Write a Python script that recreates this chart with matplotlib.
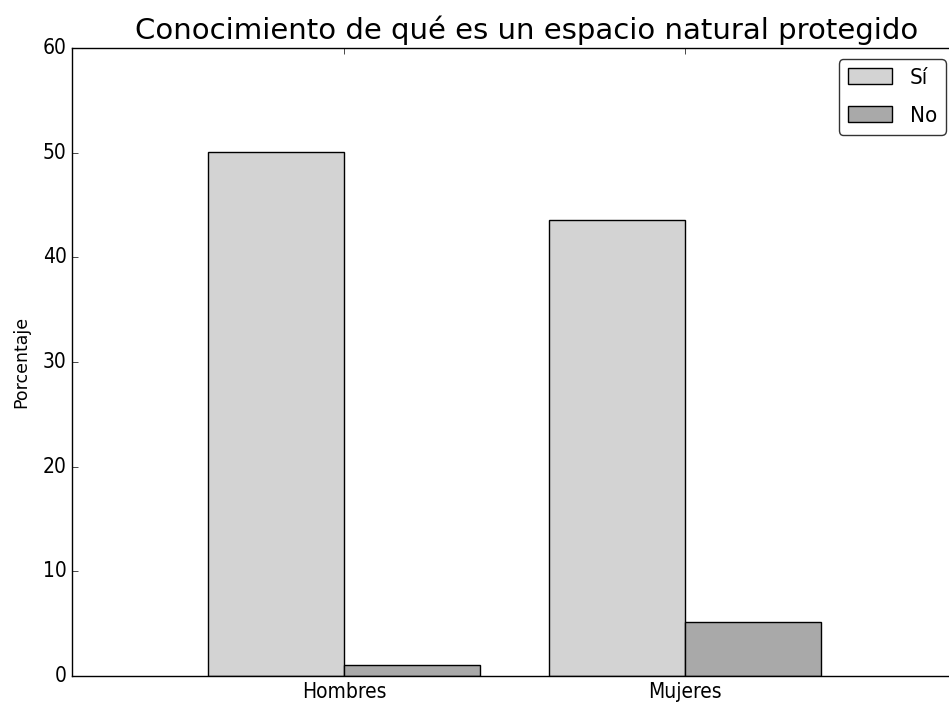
import matplotlib
matplotlib.use("Agg")
import matplotlib.pyplot as plt
import numpy as np

plt.style.use("classic")

categories = ["Hombres", "Mujeres"]
si_values = [50.1, 43.6]
no_values = [1.05, 5.15]
series_labels = ["Sí", "No"]
yticks = [0, 10, 20, 30, 40, 50, 60]

fig = plt.figure(figsize=(9.49, 7.04), dpi=100)
ax = fig.add_axes([72/949, 1-676/704, (957-72)/949, (676-48)/704])

x = np.arange(len(categories))
w = 0.4
ax.bar(x - w/2, si_values, w, color="#d3d3d3", edgecolor="black", label=series_labels[0], align="center")
ax.bar(x + w/2, no_values, w, color="#a9a9a9", edgecolor="black", label=series_labels[1], align="center")

ax.set_xlim(-0.8, 1.8)
ax.set_ylim(0, 60)
ax.set_yticks(yticks)
ax.set_xticks(x)
ax.set_xticklabels(categories, fontsize=15, fontstretch="condensed")
for lbl in ax.get_yticklabels():
    lbl.set_fontsize(15)
    lbl.set_fontstretch("condensed")
ax.set_ylabel("Porcentaje", fontsize=12.5, labelpad=9)
ax.set_title("Conocimiento de qué es un espacio natural protegido", fontsize=21, x=0.5136, y=1.003)
leg = ax.legend(loc="upper right", prop={"size": 16, "stretch": "condensed"},
                fancybox=True, borderaxespad=0.5, labelspacing=0.8)
leg.get_frame().set_edgecolor("#333333")

fig.savefig("out.png", dpi=100)
